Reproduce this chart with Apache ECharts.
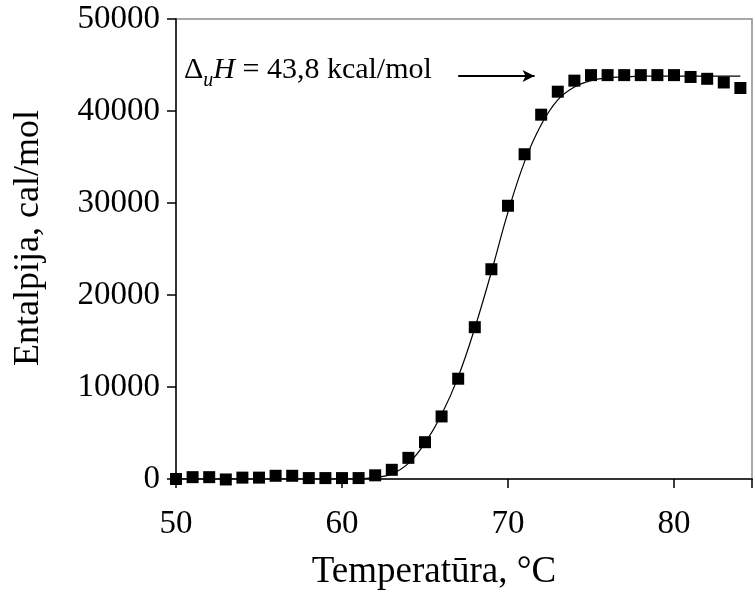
<!DOCTYPE html>
<html>
<head>
<meta charset="utf-8">
<script src="https://cdn.jsdelivr.net/npm/echarts@6/dist/echarts.min.js"></script>
<style>
  html, body { margin: 0; padding: 0; background: #fff; }
  #chart { width: 755px; height: 596px; }
</style>
</head>
<body>
<div id="chart"></div>
<script>
// Measured points: temperature (°C) and enthalpy (cal/mol)
const temperatures = [50, 51, 52, 53, 54, 55, 56, 57, 58, 59, 60, 61, 62, 63, 64, 65, 66, 67,
  68, 69, 70, 71, 72, 73, 74, 75, 76, 77, 78, 79, 80, 81, 82, 83, 84];
const enthalpy = [0, 200, 200, -50, 150, 150, 350, 350, 100, 100, 100, 100, 400, 1000, 2300,
  4000, 6800, 10900, 16500, 22800, 29700, 35300, 39600, 42100, 43300, 43900, 43900, 43900,
  43900, 43900, 43900, 43700, 43500, 43100, 42500];
// Fitted transition curve
const fitEnthalpy = [0, 0, 0, 0, 0, 0, 0, 0, 0, 0, 10, 40, 150, 550, 1700, 3900, 7000, 11100,
  16400, 22500, 29000, 34500, 38500, 41200, 42600, 43300, 43600, 43700, 43800, 43800, 43800,
  43800, 43800, 43800, 43800];
const xTicks = [50, 60, 70, 80];
const yTicks = [0, 10000, 20000, 30000, 40000, 50000];
const deltaH = 43800;
const arrowFrom = 67.0;
const arrowTo = 71.6;

const serif = '"Liberation Serif", "Times New Roman", serif';
const chart = echarts.init(document.getElementById('chart'), null, { renderer: 'canvas' });

chart.setOption({
  animation: false,
  backgroundColor: '#fff',
  grid: {
    left: 176, top: 19, right: -5, bottom: 115,
    show: true, borderColor: '#8c8c8c', borderWidth: 1.5, backgroundColor: 'transparent'
  },
  xAxis: {
    type: 'value',
    min: xTicks[0], max: 84.7, interval: 10,
    name: 'Temperatūra, °C',
    nameLocation: 'middle', nameGap: 75,
    nameTextStyle: { fontFamily: serif, fontSize: 37, color: '#000', padding: [0, 60, 0, 0] },
    axisLine: { lineStyle: { color: '#333', width: 2 } },
    axisTick: { show: true, inside: false, length: 9, lineStyle: { color: '#000', width: 1.5 } },
    axisLabel: {
      fontFamily: serif, fontSize: 33, color: '#000', margin: 29,
      formatter: v => (xTicks.includes(v) ? String(v) : '')
    },
    splitLine: { show: false }
  },
  yAxis: {
    type: 'value',
    min: yTicks[0], max: yTicks[yTicks.length - 1], interval: 10000,
    name: 'Entalpija, cal/mol',
    nameLocation: 'middle', nameGap: 129,
    nameTextStyle: { fontFamily: serif, fontSize: 36, color: '#000', padding: [0, 0, 0, 22] },
    axisLine: { show: true, lineStyle: { color: '#333', width: 2 } },
    axisTick: { show: true, inside: false, length: 9, lineStyle: { color: '#000', width: 1.5 } },
    axisLabel: {
      fontFamily: serif, fontSize: 33, color: '#000', margin: 16,
      formatter: v => String(v)
    },
    splitLine: { show: false }
  },
  graphic: [{
    type: 'text',
    left: 184, top: 55,
    style: {
      text: '{d|Δ}{u|u}{h|H}{n| = 43,8 kcal/mol}',
      rich: {
        d: { fontFamily: serif, fontSize: 30, fill: '#000', verticalAlign: 'bottom' },
        u: { fontFamily: serif, fontSize: 20, fontStyle: 'italic', fill: '#000', verticalAlign: 'bottom', padding: [0, 0, -6, 0] },
        h: { fontFamily: serif, fontSize: 30, fontStyle: 'italic', fill: '#000', verticalAlign: 'bottom' },
        n: { fontFamily: serif, fontSize: 30, fill: '#000', verticalAlign: 'bottom' }
      }
    }
  }],
  series: [
    {
      name: 'fit',
      type: 'line',
      data: temperatures.map((t, i) => [t, fitEnthalpy[i]]),
      smooth: 0.4,
      showSymbol: false,
      symbol: 'none',
      lineStyle: { color: '#000', width: 1.2 },
      z: 2,
      markLine: {
        silent: true,
        symbol: ['none', 'arrow'],
        symbolSize: [9, 12],
        label: { show: false },
        lineStyle: { color: '#000', width: 2, type: 'solid' },
        data: [[{ coord: [arrowFrom, deltaH] }, { coord: [arrowTo, deltaH] }]]
      }
    },
    {
      name: 'data',
      type: 'scatter',
      data: temperatures.map((t, i) => [t, enthalpy[i]]),
      symbol: 'rect',
      symbolSize: 12,
      clip: false,
      itemStyle: { color: '#000', opacity: 1 },
      z: 3
    }
  ]
});
</script>
</body>
</html>
